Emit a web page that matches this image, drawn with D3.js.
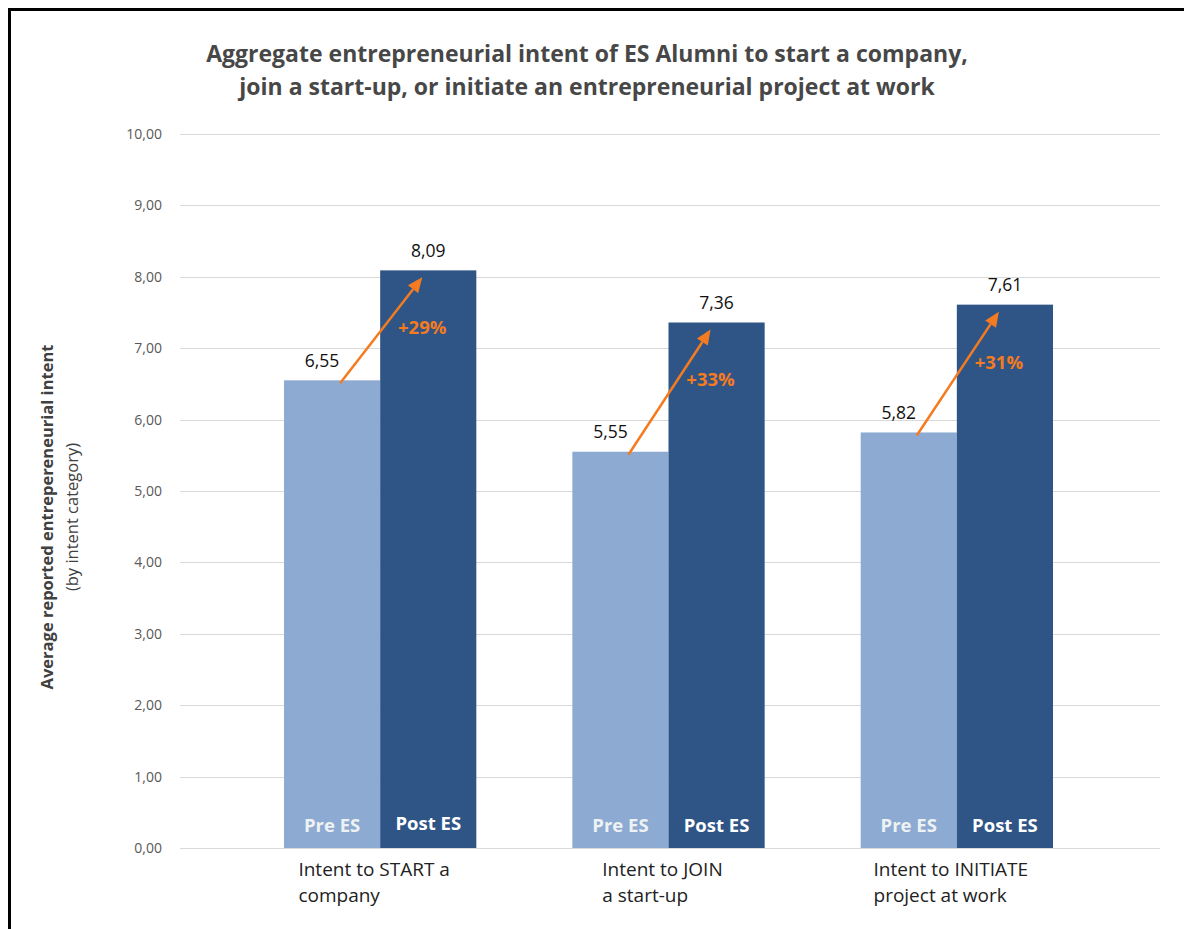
<!DOCTYPE html>
<html><head><meta charset="utf-8">
<script src="https://cdn.jsdelivr.net/npm/d3@7"></script>
<style>body{margin:0;background:#fff;}svg{display:block;font-family:"Open Sans",Lato,sans-serif;}</style>
</head><body>
<script>
const categories = [["Intent to START a","company"],["Intent to JOIN","a start-up"],["Intent to INITIATE","project at work"]];
const preValues = [6.55, 5.55, 5.82];
const postValues = [8.09, 7.36, 7.61];
const pctLabels = ["+29%","+33%","+31%"];
const seriesNames = ["Pre ES","Post ES"];
const yTicks = [0,1,2,3,4,5,6,7,8,9,10];
const titleLines = ["Aggregate entrepreneurial intent of ES Alumni to start a company,","join a start-up, or initiate an entrepreneurial project at work"];
const yTitle = ["Average reported entrepereneurial intent","(by intent category)"];

const W=1184,H=929;
const svg=d3.select("body").append("svg").attr("width",W).attr("height",H);
const fmt=v=>d3.format(".2f")(v).replace(".",",");
const y=d3.scaleLinear().domain([0,10]).range([848,134]);
const x0=d3.scaleBand().domain(d3.range(3)).range([236,1101]).paddingInner(0.333).paddingOuter(0.1665);
const x1=d3.scaleBand().domain([0,1]).range([0,x0.bandwidth()]);
const colors=["#8DAAD3","#2F5587"];
const orange="#F47B20";

// frame
svg.append("line").attr("x1",9.5).attr("x2",9.5).attr("y1",8).attr("y2",H).attr("stroke","#000").attr("stroke-width",3);
svg.append("line").attr("x1",8).attr("x2",W).attr("y1",9.5).attr("y2",9.5).attr("stroke","#000").attr("stroke-width",3);

// title
svg.append("g").selectAll("text").data(titleLines).join("text")
 .attr("x",587).attr("y",(d,i)=>62+i*33).attr("text-anchor","middle")
 .attr("font-size",23).attr("font-weight","bold").attr("fill","#474747").text(d=>d);

// grid + y ticks
const yAxis=d3.axisLeft(y).tickValues(yTicks).tickFormat(fmt).tickSize(0).tickPadding(18);
const ga=svg.append("g").attr("transform","translate(180,0)").call(yAxis);
ga.select(".domain").remove();
ga.selectAll("text").attr("font-size",14).attr("fill","#595959").attr("font-family","'Open Sans',sans-serif");
svg.append("g").selectAll("line").data(yTicks).join("line")
 .attr("x1",180).attr("x2",1160).attr("y1",d=>Math.round(y(d))+0.5).attr("y2",d=>Math.round(y(d))+0.5)
 .attr("stroke","#D9D9D9").attr("stroke-width",1.2);

// y title
yTitle.forEach((t,i)=>{
 svg.append("text").attr("transform",`translate(${53+i*25},517) rotate(-90)`).attr("text-anchor","middle")
  .attr("font-size",16.5).attr("font-weight",i===0?"bold":"normal").attr("fill","#404040").text(t);
});

// bars
const groups=svg.append("g").selectAll("g").data(d3.range(3)).join("g").attr("transform",i=>`translate(${x0(i)},0)`);
groups.each(function(i){
 const g=d3.select(this);
 const vals=[preValues[i],postValues[i]];
 g.selectAll("rect").data(vals).join("rect")
  .attr("x",(d,j)=>x1(j)).attr("width",x1.bandwidth()).attr("y",d=>y(d)).attr("height",d=>y(0)-y(d))
  .attr("fill",(d,j)=>colors[j]);
 g.selectAll("text.val").data(vals).join("text").attr("class","val")
  .attr("x",(d,j)=>x1(j)+x1.bandwidth()/2-(j===0?10:0)).attr("y",d=>y(d)-13.5).attr("text-anchor","middle")
  .attr("font-size",17.5).attr("fill","#111").text(fmt);
 g.selectAll("text.ser").data(seriesNames).join("text").attr("class","ser")
  .attr("x",(d,j)=>x1(j)+x1.bandwidth()/2).attr("y",(d,j)=>y(0)-16-(i===0&&j===1?2:0)).attr("text-anchor","middle")
  .attr("font-size",18.5).attr("font-weight","bold").attr("fill",(d,j)=>j===0?"#EEF2F2":"#fff").text(d=>d);
 // category label: left-aligned lines, block roughly centred on the group
 const cl=g.append("text").attr("y",y(0)+28).attr("font-size",19).attr("fill","#222");
 const ts=cl.selectAll("tspan").data(categories[i]).join("tspan").attr("dy",(d,k)=>k?26:0).text(d=>d);
 const bw=d3.max(ts.nodes(),n=>n.getComputedTextLength());
 ts.attr("x",x0.bandwidth()/2-bw/2-6);
 // arrow
 const sx=x1(0)+x1.bandwidth()/2+8, sy=y(preValues[i])+3;
 const ex=x1(1)+x1.bandwidth()/2-6, ey=y(postValues[i])+7;
 const ang=Math.atan2(ey-sy,ex-sx);
 const hl=15, hw=6.5;
 const bx=ex-hl*Math.cos(ang), by=ey-hl*Math.sin(ang);
 g.append("line").attr("x1",sx).attr("y1",sy).attr("x2",bx).attr("y2",by).attr("stroke",orange).attr("stroke-width",2.5);
 g.append("path").attr("d",`M${ex},${ey}L${bx+hw*Math.sin(ang)},${by-hw*Math.cos(ang)}L${bx-hw*Math.sin(ang)},${by+hw*Math.cos(ang)}Z`).attr("fill",orange);
 g.append("text").attr("x",x1(1)+x1.bandwidth()/2-6).attr("y",y(postValues[i])+64).attr("text-anchor","middle")
  .attr("font-size",18.5).attr("font-weight","bold").attr("fill",orange).text(pctLabels[i]);
});
</script>
</body></html>
